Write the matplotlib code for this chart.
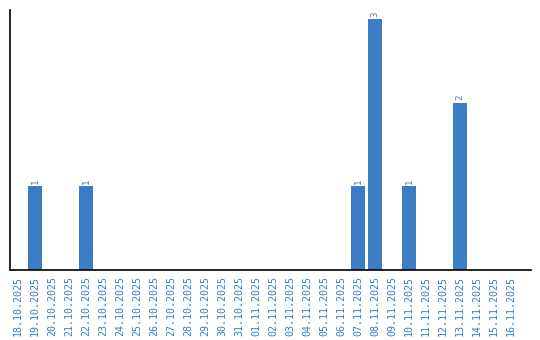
import matplotlib
matplotlib.use("Agg")
import matplotlib.pyplot as plt

dates = ["18.10.2025", "19.10.2025", "20.10.2025", "21.10.2025", "22.10.2025",
         "23.10.2025", "24.10.2025", "25.10.2025", "26.10.2025", "27.10.2025",
         "28.10.2025", "29.10.2025", "30.10.2025", "31.10.2025", "01.11.2025",
         "02.11.2025", "03.11.2025", "04.11.2025", "05.11.2025", "06.11.2025",
         "07.11.2025", "08.11.2025", "09.11.2025", "10.11.2025", "11.11.2025",
         "12.11.2025", "13.11.2025", "14.11.2025", "15.11.2025", "16.11.2025"]
counts = [0, 1, 0, 0, 1, 0, 0, 0, 0, 0, 0, 0, 0, 0, 0,
          0, 0, 0, 0, 0, 1, 3, 0, 1, 0, 0, 2, 0, 0, 0]

blue = "#3a7dc4"

fig = plt.figure(figsize=(5.4, 3.4), dpi=100)
ax = fig.add_axes([10/540, 70/340, 521/540, 260/340])
x = list(range(len(dates)))
ax.bar(x, counts, width=0.82, color=blue)
for xi, c in zip(x, counts):
    if c > 0:
        ax.text(xi, c + 0.03, str(c), rotation=90, ha="center", va="bottom",
                fontsize=6.5, color="#55779e", family="DejaVu Sans Mono")
ax.set_xlim(-0.47, 30.16)
ax.set_ylim(0, 3.11)
ax.set_xticks(x)
ax.set_xticklabels(dates, rotation=90, fontsize=7.2, color=blue, family="DejaVu Sans Mono")
ax.tick_params(axis="x", length=0, pad=4)
ax.set_yticks([])
for s in ["top", "right"]:
    ax.spines[s].set_visible(False)
ax.spines["left"].set_linewidth(1.2)
ax.spines["bottom"].set_linewidth(1.2)
fig.savefig("out.png", dpi=100)
